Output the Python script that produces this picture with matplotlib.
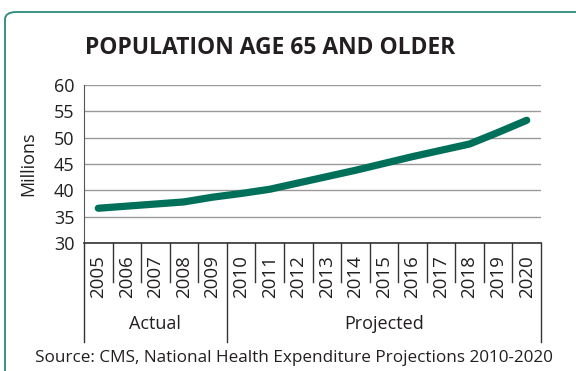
import numpy as np
import matplotlib.pyplot as plt
from matplotlib.patches import FancyBboxPatch

plt.rcParams['font.family'] = ['Open Sans', 'DejaVu Sans']

# Population age 65+ in millions, 2005-2009 actual, 2010-2020 projected
years = [str(y) for y in range(2005, 2021)]
population = [36.6, 37.0, 37.4, 37.8, 38.7, 39.4, 40.2, 41.4, 42.6,
              43.8, 45.1, 46.4, 47.6, 48.8, 51.0, 53.3]
groups = ['Actual', 'Projected']
group_sizes = [5, 11]
yticks = [30, 35, 40, 45, 50, 55, 60]

teal = '#00705a'
frame_col = '#2a8a78'
grid_col = '#9a9a9a'
text_col = '#231f20'

fig = plt.figure(figsize=(5.76, 3.71), dpi=100)

# rounded outer frame running off the right and bottom edges
frame = FancyBboxPatch((5 / 576, -0.1), 1.2, (371 - 12) / 371 + 0.1,
                       boxstyle='round,pad=0,rounding_size=0.02',
                       transform=fig.transFigure, fill=False,
                       edgecolor=frame_col, linewidth=1.3)
fig.patches.append(frame)

ax = fig.add_axes([84 / 576, (371 - 243) / 371, (541 - 84) / 576, 158 / 371])

x = np.arange(len(years)) + 0.5
ax.plot(x, population, color=teal, linewidth=5.2, solid_capstyle='round')

ax.set_xlim(0, len(years))
ax.set_ylim(30, 60)
ax.set_yticks(yticks)
ax.set_yticklabels([str(t) for t in yticks], fontsize=13, color=text_col)
ax.tick_params(axis='y', length=0, pad=7)
ax.yaxis.grid(True, color=grid_col, linewidth=1.0)
ax.set_axisbelow(True)

ax.set_xticks(x)
ax.set_xticklabels(years, rotation=90, fontsize=13.5, color=text_col)
ax.tick_params(axis='x', length=0, pad=9)

for s in ['top', 'right']:
    ax.spines[s].set_visible(False)
ax.spines['left'].set_color('#555555')
ax.spines['bottom'].set_color('#333333')
ax.spines['bottom'].set_linewidth(1.2)

ax.set_ylabel('Millions', fontsize=13, color=text_col, labelpad=12)

# separators between years and between groups
trans = ax.get_xaxis_transform()
bounds = np.cumsum([0] + group_sizes)
for i in range(1, len(years)):
    if i not in bounds:
        ax.plot([i, i], [0, -0.247], transform=trans, color='#333333',
                linewidth=1.0, clip_on=False)
for b in bounds:
    ax.plot([b, b], [0, -0.627], transform=trans, color='#333333',
            linewidth=1.0, clip_on=False)

# group labels
for g, start, n in zip(groups, bounds[:-1], group_sizes):
    ax.text(start + n / 2, -0.515, g, transform=trans, ha='center',
            va='center', fontsize=13, color=text_col)

fig.text(270, 371 - 48, 'POPULATION AGE 65 AND OLDER', ha='center',
         va='center', fontsize=16.5, fontweight='bold', color=text_col,
         transform=None)
fig.text(294, 371 - 358, 'Source: CMS, National Health Expenditure Projections 2010-2020',
         ha='center', va='center', fontsize=12.3, color=text_col,
         transform=None)

fig.savefig('out.png', dpi=100)
